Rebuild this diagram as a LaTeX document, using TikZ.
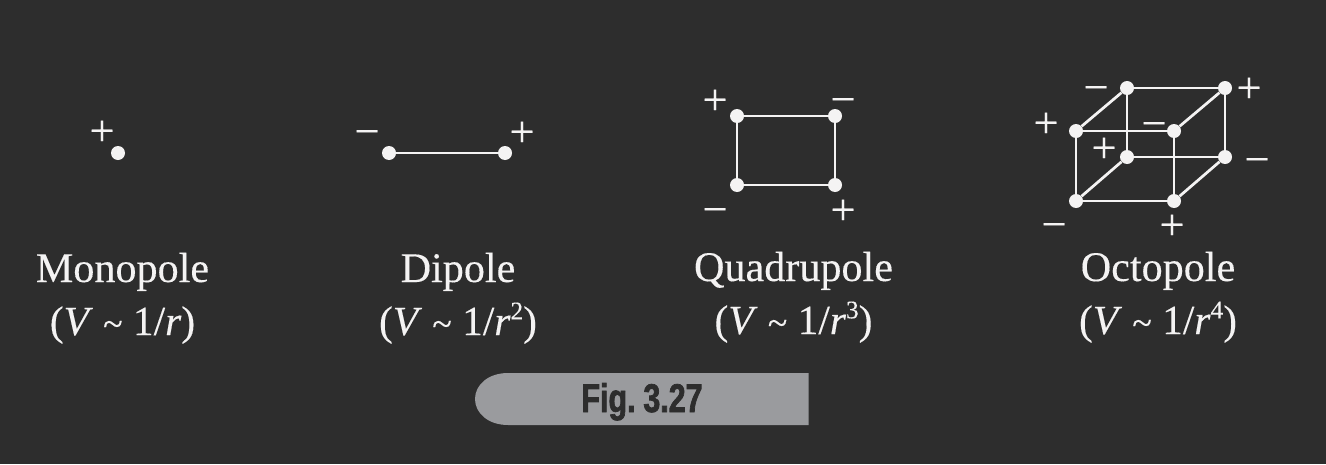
\documentclass[tikz,border=0pt]{standalone}
\usepackage{fontspec}
\setmainfont[FakeBold=0.25,ItalicFont={Liberation Serif Italic},ItalicFeatures={FakeBold=0.25}]{Liberation Serif}
\newfontfamily\figfont[FakeStretch=0.76,FakeBold=1.8,WordSpace=0.6]{Liberation Sans Bold}
\definecolor{bgc}{HTML}{2D2D2D}
\definecolor{fgc}{HTML}{F4F3F3}
\definecolor{tabc}{HTML}{9A9B9E}
\newcommand{\tld}{\raisebox{-0.02em}{\fontsize{27}{27}\selectfont\char`\~}}
\newcommand{\sups}[1]{\raisebox{0.38em}{\fontsize{19}{19}\selectfont #1}}
\tikzset{
  x=0.75pt,y=-0.75pt,
  dot/.style={circle,fill=fgc,draw=none,minimum size=10.5pt,inner sep=0pt},
  wire/.style={draw=fgc,line width=2.05pt},
  splus/.style={text=fgc,font=\fontsize{33}{33}\selectfont,inner sep=0pt,anchor=center,yshift=-2.25pt},
  sminus/.style={text=fgc,font=\fontsize{33}{33}\selectfont,inner sep=0pt,anchor=center,yshift=-5.25pt},
  lab/.style={text=fgc,font=\fontsize{31.6}{32}\selectfont,inner sep=0pt,anchor=base},
  lab2/.style={lab,font=\fontsize{31}{32}\selectfont},
}
\begin{document}
\begin{tikzpicture}
\useasboundingbox (0,0) rectangle (1326,464);
\fill[bgc] (0,0) rectangle (1326,464);
% monopole
\node[dot] (m) at (118,153) {};
\node[splus] (mp) at (102,130) {+};
% dipole
\node[dot] (d1) at (389,153) {};
\node[dot] (d2) at (505,153) {};
\draw[wire] (d1) -- (d2);
\node[sminus] (dm) at (367,131) {−};
\node[splus] (dp) at (522,131) {+};
% quadrupole
\node[dot] (q1) at (737,116) {};
\node[dot] (q2) at (835,116) {};
\node[dot] (q3) at (737,185) {};
\node[dot] (q4) at (835,185) {};
\draw[wire] (q1) -- (q2) -- (q4) -- (q3) -- (q1);
\node[splus] (qa) at (715,99) {+};
\node[sminus] (qb) at (843,99) {−};
\node[sminus] (qc) at (715,209) {−};
\node[splus] (qd) at (843,209) {+};
% octopole
\node[dot] (a) at (1076,131) {};
\node[dot] (b) at (1174,131) {};
\node[dot] (c) at (1076,201) {};
\node[dot] (e) at (1174,201) {};
\node[dot] (f) at (1127,88) {};
\node[dot] (g) at (1225,88) {};
\node[dot] (h) at (1127,157) {};
\node[dot] (i) at (1225,157) {};
\draw[wire] (a) -- (b) -- (e) -- (c) -- (a);
\draw[wire] (f) -- (g) -- (i) -- (h) -- (f);
\draw[wire] (a) -- (f) (b) -- (g) (c) -- (h) (e) -- (i);
\node[splus] (o1) at (1046,122) {+};
\node[sminus] (o2) at (1096,87) {−};
\node[splus] (o3) at (1249,87) {+};
\node[splus] (o4) at (1104,147) {+};
\node[sminus] (o5) at (1154,123) {−};
\node[sminus] (o6) at (1257,159) {−};
\node[sminus] (o7) at (1054,224) {−};
\node[splus] (o8) at (1172,224) {+};
% labels
\node[lab] (l1) at (122.5,282) {Monopole};
\node[lab2] (l2) at (122.5,335) {(\textit{V} \tld{} 1/\textit{r})};
\node[lab] (l3) at (458,282) {Dipole};
\node[lab2] (l4) at (458,335) {(\textit{V} \tld{} 1/\textit{r}\sups{2})};
\node[lab] (l5) at (793.5,281) {Quadrupole};
\node[lab2] (l6) at (793.5,334) {(\textit{V} \tld{} 1/\textit{r}\sups{3})};
\node[lab] (l7) at (1158,281) {Octopole};
\node[lab2] (l8) at (1158,334) {(\textit{V} \tld{} 1/\textit{r}\sups{4})};
% tab
\fill[tabc] (808.5,373) -- (508,373) .. controls (488,373) and (475,385) .. (475,399) .. controls (475,413) and (488,425) .. (508,425) -- (808.5,425) -- cycle;
\node[text=bgc,font=\figfont\fontsize{30}{30}\selectfont,inner sep=0pt,anchor=base] (fig) at (642,412) {Fig. 3.27};
\end{tikzpicture}
\end{document}
